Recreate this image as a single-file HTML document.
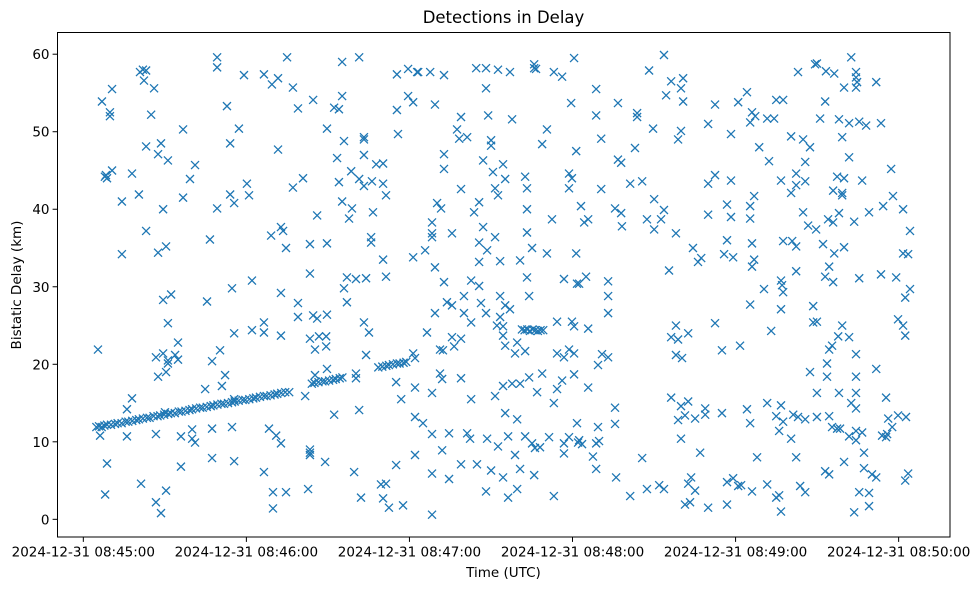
<!DOCTYPE html>
<html>
<head>
<meta charset="utf-8">
<style>
  html,body{margin:0;padding:0;background:#fff;}
  svg{display:block;font-family:"DejaVu Sans","Liberation Sans",sans-serif;}
</style>
</head>
<body>
<svg id="chart" width="979" height="590" viewBox="0 0 979 590" xmlns="http://www.w3.org/2000/svg">
  <rect x="0" y="0" width="979" height="590" fill="#fff"/>
  <text x="503.5" y="23" text-anchor="middle" font-size="16.5" fill="#000">Detections in Delay</text>
  <g id="marks"></g>
  <g id="xaxis"></g>
  <g id="yaxis"></g>
  <rect x="57.5" y="32.5" width="892.5" height="504.5" fill="none" stroke="#000" stroke-width="1"/>
  <text x="503.5" y="577" text-anchor="middle" font-size="13.5" fill="#000">Time (UTC)</text>
  <text x="21" y="285" text-anchor="middle" font-size="13.5" fill="#000" transform="rotate(-90 21 285)">Bistatic Delay (km)</text>
</svg>
<script>
// ---- data: times (raw reading units), delays in km ----
const trackTimeRaw = [-1,0,1,2,3,4.5,6,7,8.5,10,11,12.5,14,15,16.5,18,19,20.5,22,23,24.5,26,27,28.5,30,31,32.5,34,35,36.5,38,39,40.5,42,43,44.5,46,47,48.5,50,51,52.5,54,55,56.5,58,59,60.5,62,63,64.5,66,67,68.5,70,71.5,80,81,82.5,84,85,86.5,88,89,90.5,91.5,105,106.5,108,109,110.5,112,113,114.5,115.5,159,160,161,162,163,164,165,166,167];
const trackDelayKm = [11.9,12.0,11.9,12.1,12.2,12.2,12.3,12.4,12.4,12.6,12.6,12.7,12.8,12.9,13.0,13.1,13.1,13.3,13.3,13.4,13.5,13.6,13.7,13.7,13.9,13.9,14.0,14.1,14.2,14.3,14.4,14.4,14.5,14.6,14.7,14.8,14.9,14.9,15.0,15.1,15.2,15.3,15.4,15.4,15.5,15.6,15.7,15.8,15.9,15.9,16.0,16.1,16.2,16.3,16.4,16.4,17.5,17.6,17.7,17.8,17.8,17.9,18.0,18.1,18.2,18.3,19.6,19.7,19.8,19.9,20.0,20.1,20.1,20.2,20.3,24.5,24.4,24.5,24.3,24.5,24.4,24.3,24.4,24.4];

const detTimeRawA = [44.4,44.4,54.5,15.4,17.7,16.5,16.9,20.7,4.9,1.1,4.1,4.1,19.6,48.1,52.6,31.6,49.3,17.7,23.3,22.2,25.9,36.1,34.2,2.6,3.0,2.2,4.9,12.4,55.6,15.0,8.6,31.6,24.1,49.3,50.8,56.4,44.4,17.7,41.7,8.6,22.2,25.2,57.5,50.0,24.1,27.1,40.6,25.9,50.8,57.5,-0.4,29.7,45.5,21.4,24.1,25.9,28.6,29.7,25.9,42.5,22.2,25.2,47.4,46.2,39.9,12.4,10.5,50.8,0.4,10.5,21.4,30.8,35,35,36.1,42.5,50,24.8,3,30.8,42.5,50.8,15.8,2.3,25.2,21.4,23.3];
const detDelayKmA = [59.6,58.3,57.3,57.7,57.9,58.0,56.6,55.6,55.5,53.9,52.5,52.0,52.2,53.3,50.4,50.3,48.5,48.1,48.5,47.1,46.3,45.7,43.9,44.4,44.0,44.2,45.0,44.6,43.3,41.9,41.0,41.5,40.0,41.9,40.8,41.8,40.1,37.2,36.1,34.2,34.4,35.2,30.8,29.8,28.3,29.0,28.1,25.3,24.0,24.4,21.9,22.8,21.8,20.9,21.4,20.5,21.2,20.6,20.1,20.4,18.4,19.0,18.6,17.2,16.8,15.6,14.2,15.5,10.8,10.7,11.0,10.7,11.6,10.4,9.9,11.7,11.9,13.8,7.2,6.8,7.9,7.5,4.6,3.2,3.7,2.2,0.8];

const detTimeRawB = [70.7,91.4,97.8,62.0,65.0,67.3,72.9,112,116.2,119.6,80.5,74.8,88.4,90.2,91.4,112,116.2,118.1,85.7,112.4,67.3,92.1,99.6,99.6,89.5,99.6,104.2,106.8,72.9,76.7,90.2,94.8,97.8,99.6,102.6,106.8,107.9,91.4,95.1,94,103,82,68.4,69.2,64.7,70.3,79.3,85.7,102.3,102.3,106.8,118.1,79.3,93.2,96.6,100.4,107.9,92.1,93.2,68.4,74.8,74.8,80.5,82,85.7,99.6,101.5,62,62,68.4,79.3,82.7,85.4,81.2,85.4,100.4,118.1,118.8,81.2,85.7,96.6,96.6,111.7,118.8,113.6,77.5,88.4,97.8,118.8,63.9,66.6,68.4,79.3,79.3,79.3,85.0,62.0,95.9,111.7,118.8,65.4,70.3,78.6,65.4,98.5,106,107.9,106.8,109,114.3];
const detDelayKmB = [59.6,59.0,59.6,57.4,56.1,56.9,55.7,57.4,58.1,57.7,54.1,53.0,53.1,52.9,54.6,52.8,54.6,53.8,50.4,49.7,47.7,48.8,49.3,49.0,46.6,47.0,45.8,45.9,42.8,44.0,43.5,44.9,43.9,43.0,43.6,43.3,41.8,41.0,40.1,38.8,39.6,39.2,37.7,37.2,36.6,35.0,35.5,35.6,36.4,35.7,33.5,33.8,31.7,31.2,31.0,31.1,31.3,29.8,28.0,29.2,27.9,26.1,26.3,25.9,26.4,25.4,24.1,25.4,24.1,23.7,23.3,23.6,23.6,21.9,22.3,21.2,21.4,20.8,18.6,19.4,18.8,18.2,17.7,17.0,15.5,15.9,13.5,14.1,13.2,11.7,10.8,9.8,8.6,9.0,8.3,7.4,6.1,6.1,7.0,8.3,3.5,3.5,3.9,1.4,2.8,4.5,4.6,2.7,1.5,1.8];

const detTimeRawC = [120,124.5,129.7,141.8,145.5,150,154.5,163.6,164.3,163.6,171,174.1,178.6,145.5,126.3,177.5,136.1,146.3,155.3,134.6,135.4,138.4,147.4,147.4,168.4,166.6,179.4,129.7,129.7,144.4,148.1,151.9,152.7,160.2,160.9,176.7,177.8,176.7,136.1,148.9,150,127.1,128.6,142.9,141,160.9,170.3,125.2,125.2,125.2,132.7,144.4,142.9,145.9,148.9,160.9,162.8,168.4,179.4,122.6,126.3,142.9,150.8,158.3,160.9,174.8,179.7,129.7,139.9,142.9,137.2,130.8,132.7,150.8,161.7,143.6,152.7,154.5,126.3,137.2,145.5,139.9,150.8,149.6,151.9,172.2,177.8,178.6,123.3,151.9,152.7,157.2,160.2,156.4,132.7,136.1,133.5,128.2,129.3,172.2,174.8,176.7,178.6,128.2,129,136.1,125.2,139.9,148.9,151.9,155.3,158.3,161.7,166.6,164.7,172.2,174.1,178.6,171,121.8,152.7,157.2,125.2,131.6,138.4,139.5,145.9,150,153.8,160.2,162.8,163.9,165.8,169.2,174.8,176.7,174.8,179.7,180.1,129,156.4,125.2,131.6,136.1,142.1,147.4,151.9,158.3,163.6,145.5,153.8,157.2,171,125.2];
const detDelayKmC = [57.7,57.7,57.3,58.2,58.2,58.0,57.7,58.7,58.1,58.2,57.7,57.1,59.5,55.6,53.5,53.7,51.9,52.1,51.6,50.3,49.1,49.3,48.9,48.2,50.3,48.4,47.5,47.1,45.2,46.3,44.8,45.8,43.9,44.2,42.7,44.6,44.0,42.7,42.6,42.7,41.8,40.8,40.1,40.9,39.6,40.0,38.7,38.3,36.9,36.4,36.9,37.7,35.7,34.7,36.4,37.0,35.0,34.3,34.3,34.7,32.5,33.2,33.3,33.4,31.2,31.0,30.4,30.6,30.8,30.1,28.8,28.0,27.6,28.8,28.8,27.9,27.6,27.1,26.6,26.6,26.6,25.4,26.1,25.0,24.9,25.5,25.5,24.9,24.1,23.7,22.4,22.8,21.7,21.4,23.5,23.3,22.3,21.9,21.8,21.4,20.9,21.9,21.4,18.8,18.1,18.2,16.3,15.5,15.9,17.2,17.5,17.5,18.3,18.8,16.4,16.8,17.9,18.7,15.0,12.4,13.7,12.9,11.0,11.1,11.1,10.4,10.4,9.4,10.7,10.7,9.8,9.2,9.3,10.6,9.8,10.6,8.5,12.4,9.9,8.9,8.3,5.9,5.2,7.1,7.1,6.3,5.4,6.5,5.7,3.6,2.8,3.9,3.0,0.6];

const detTimeRawD = [212.4,206.8,215.1,219.6,218.8,219.6,213.2,186.9,195.1,186.9,202.3,202.3,231.6,240.3,208.3,218.8,217.7,229,237.6,188.8,201.5,195.1,196.3,188.8,199.7,204.2,229,231.6,237.6,208.7,181.2,194,196.3,212.4,182.4,183.9,206,211.3,208.7,196.6,236.1,237.6,229,216.9,236.1,235,238.4,223.3,226.4,225.2,214.3,183.1,180.5,191.4,191.4,191.4,183.9,216.9,215.1,217.7,221.5,216.9,219.2,231.6,234.2,241,189.1,191.4,187.6,183.9,194,215.1,218.8,221.5,217.7,220.3,224.1,227.9,227.9,234.2,218.8,226,180.5,181.6,187.6,186.9,188,194,185.7,186.9,204.2,194.4,199.7,206,210.6,212.4,222.6,221.5,224.1,220.3,222.2,229,236.1,236.1,238.4,240.3];
const detDelayKmD = [59.9,57.9,56.5,56.9,55.6,53.9,54.7,55.5,53.7,52.1,52.4,51.9,53.5,53.8,50.4,50.1,49.0,51.0,49.7,49.1,47.9,46.4,46.0,42.6,43.3,43.6,43.3,44.4,43.7,41.3,40.4,40.1,39.5,39.9,38.3,38.7,38.7,38.7,37.4,37.8,40.6,39.0,39.3,36.9,36.0,34.2,33.8,35.0,33.7,33.2,32.1,31.3,30.4,30.7,28.8,26.6,24.6,25.0,23.5,23.2,24.0,21.2,20.8,25.3,21.8,22.4,21.3,20.9,19.9,17.0,14.4,15.7,14.6,15.2,12.8,13.4,13.0,14.3,13.5,13.7,10.4,8.6,10.2,9.7,11.9,9.8,10.1,12.3,8.1,6.5,7.9,5.4,3.0,3.9,4.4,3.9,5.4,4.6,3.7,1.9,2.2,1.5,1.9,4.8,5.3,4.3];

const detTimeRawE = [282.8,262.8,269.2,269.9,273.3,276.4,284.6,284.6,285,284.6,280.1,292.2,243.6,254.6,257.2,273,245.5,246.7,244.8,251.2,253.8,271.1,278.2,282,285.8,288.4,294,260.2,264.7,267.3,279.4,248.2,251.9,265.5,282,297.8,256.4,262.1,265.5,262.1,260.2,277.5,280.1,286.9,276,279.4,279.4,298.5,246.3,244.8,244.8,264.7,294.8,289.5,302.3,266.6,269.6,274.1,276,278.2,283.9,304.9,245.5,257.2,260.6,262.1,272.2,276.4,280.1,302.3,304.2,246.3,245.5,274.5,273,276,262.1,256.4,256.8,257.2,285.8,294,299.7,304.9,303.1,250,244.8,256.4,268.5,268.5,269.9,300.4,302.3,303.1,252.7,279.4,277.9,282,275.6,274.5,284.6,273.7,267.3,273.7,284.6,292.2,269.9,278.2,284.6,282.8,284.6,295.9,243.6,244.8,251.2,254.6,256.4,257.2,255.7,260.2,261,262.8,265.5,269.9,274.5,275.6,277.5,278.6,282,284.6,286.9,284.6,287.6,296.7,298.2,300.4,303.4,294.4,296.3,295.9,247.4,262.1,280.1,273,274.5,287.6,290.6,292.2,303.1,304.2,241.4,245.5,251.2,254.6,255.7,256.4,263.6,265.5,285.8,289.5,289.5,283.9];
const detDelayKmE = [59.6,57.7,58.7,58.8,57.8,57.5,57.7,57.0,56.4,55.7,55.7,56.4,55.1,54.1,54.1,53.9,52.5,52.0,51.2,51.7,51.7,51.7,51.6,51.1,51.3,50.8,51.1,49.4,49.0,48.0,49.3,48.0,46.2,46.1,46.7,45.2,43.7,44.6,43.6,43.1,42.1,44.2,44.0,43.7,42.4,42.1,41.8,41.7,41.7,40.4,38.8,39.6,40.4,39.6,40.0,37.9,37.4,38.7,38.3,39.5,38.4,37.2,35.6,35.9,35.9,35.2,35.5,34.3,35.1,34.3,34.2,33.5,32.6,32.6,31.3,30.6,32.0,30.8,30.2,29.3,31.1,31.6,31.2,29.7,28.6,29.7,27.7,27.1,27.5,25.4,25.5,25.8,25.0,23.7,24.3,25.0,23.6,23.5,22.4,21.9,21.3,20.1,19.0,18.4,18.4,19.4,16.3,16.3,16.3,15.0,14.3,15.7,14.2,12.4,15.0,13.3,14.7,12.6,11.4,10.4,13.5,13.2,12.9,13.2,13.3,11.9,11.7,11.7,10.7,11.4,11.2,10.2,8.6,13.0,11.9,13.4,13.2,10.8,11.0,10.6,8.0,8.0,7.4,6.2,5.8,6.6,5.8,5.4,5.0,5.9,4.4,3.6,4.5,2.8,3.1,1.0,4.3,3.5,3.5,3.4,1.7,0.9];

// calibration of the raw time readings to seconds after 08:45:00
const timeCalibScale = 0.9787;
const timeCalibOffset = 5.78;

// axis ticks
const xTickSeconds = [0, 60, 120, 180, 240, 300];
const xTickLabels = ["2024-12-31 08:45:00","2024-12-31 08:46:00","2024-12-31 08:47:00","2024-12-31 08:48:00","2024-12-31 08:49:00","2024-12-31 08:50:00"];
const yTickValues = [0, 10, 20, 30, 40, 50, 60];

// ---- scales ----
const plotL = 57.5, plotR = 950, plotT = 32.5, plotB = 537;
const xDomain = [-9.5, 318.9];
const yDomain = [-2.28, 62.8];
function xScale(sec){ return plotL + (sec - xDomain[0]) / (xDomain[1] - xDomain[0]) * (plotR - plotL); }
function yScale(km){ return plotB - (km - yDomain[0]) / (yDomain[1] - yDomain[0]) * (plotB - plotT); }
function toSeconds(raw){ return raw * timeCalibScale + timeCalibOffset; }

const NS = "http://www.w3.org/2000/svg";
const marks = document.getElementById("marks");
const color = "#1f77b4";
const h = 4;

function drawSeries(times, delays, name){
  const n = Math.min(times.length, delays.length);
  for (let i = 0; i < n; i++){
    const cx = xScale(toSeconds(times[i]));
    const cy = yScale(delays[i]);
    const p = document.createElementNS(NS, "path");
    p.setAttribute("d", "M"+(cx-h)+","+(cy-h)+"L"+(cx+h)+","+(cy+h)+"M"+(cx-h)+","+(cy+h)+"L"+(cx+h)+","+(cy-h));
    p.setAttribute("stroke", color);
    p.setAttribute("stroke-width", "1.3");
    p.setAttribute("fill", "none");
    
    
    marks.appendChild(p);
  }
}
drawSeries(trackTimeRaw, trackDelayKm, "track");
drawSeries(detTimeRawA, detDelayKmA, "a");
drawSeries(detTimeRawB, detDelayKmB, "b");
drawSeries(detTimeRawC, detDelayKmC, "c");
drawSeries(detTimeRawD, detDelayKmD, "d");
drawSeries(detTimeRawE, detDelayKmE, "e");

// x axis
const xg = document.getElementById("xaxis");
for (let i = 0; i < xTickSeconds.length; i++){
  const x = xScale(xTickSeconds[i]);
  const t = document.createElementNS(NS, "line");
  t.setAttribute("x1", x); t.setAttribute("x2", x);
  t.setAttribute("y1", plotB); t.setAttribute("y2", plotB + 4.9);
  t.setAttribute("stroke", "#000"); t.setAttribute("stroke-width", "1");
  
  
  xg.appendChild(t);
  const lb = document.createElementNS(NS, "text");
  lb.setAttribute("x", x); lb.setAttribute("y", plotB + 19.5);
  lb.setAttribute("text-anchor", "middle");
  lb.setAttribute("font-size", "13.5");
  lb.textContent = xTickLabels[i];
  
  
  xg.appendChild(lb);
}
// y axis
const yg = document.getElementById("yaxis");
for (let i = 0; i < yTickValues.length; i++){
  const y = yScale(yTickValues[i]);
  const t = document.createElementNS(NS, "line");
  t.setAttribute("x1", plotL - 4.9); t.setAttribute("x2", plotL);
  t.setAttribute("y1", y); t.setAttribute("y2", y);
  t.setAttribute("stroke", "#000"); t.setAttribute("stroke-width", "1");
  
  
  yg.appendChild(t);
  const lb = document.createElementNS(NS, "text");
  lb.setAttribute("x", plotL - 8); lb.setAttribute("y", y + 5);
  lb.setAttribute("text-anchor", "end");
  lb.setAttribute("font-size", "13.5");
  lb.textContent = String(yTickValues[i]);
  
  
  yg.appendChild(lb);
}
</script>
</body>
</html>
